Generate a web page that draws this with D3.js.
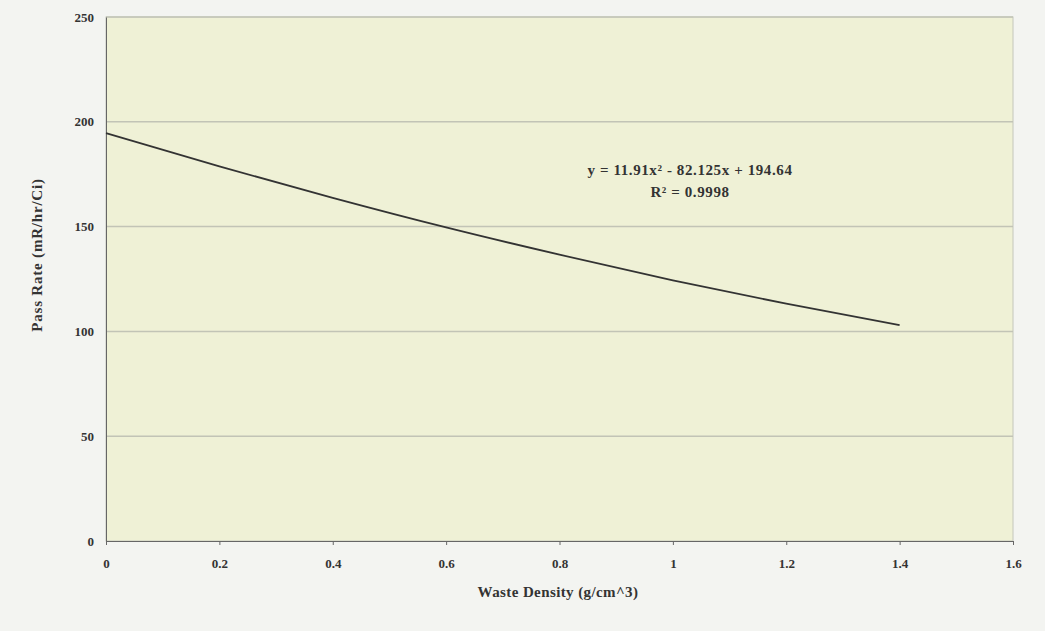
<!DOCTYPE html>
<html>
<head>
<meta charset="utf-8">
<script src="https://cdn.jsdelivr.net/npm/d3@7"></script>
<style>
  body { margin: 0; background: #f3f4f1; }
  svg { display: block; }
  .tick text { font-family: "Liberation Serif", "DejaVu Serif", serif; font-weight: bold; font-size: 13px; fill: #333; }
</style>
</head>
<body>
<svg id="chart" width="1045" height="631"></svg>
<script>
// values
const density = [0, 0.2, 0.4, 0.6, 0.8, 1.0, 1.2, 1.4];
const passRate = [194.6, 178.7, 163.7, 149.6, 136.6, 124.4, 113.2, 103.0];
const xTicks = [0, 0.2, 0.4, 0.6, 0.8, 1, 1.2, 1.4, 1.6];
const yTicks = [0, 50, 100, 150, 200, 250];
const equationLines = ["y = 11.91x\u00b2 - 82.125x + 194.64", "R\u00b2 = 0.9998"];

const MARGIN = {top: 17, right: 32, bottom: 90, left: 106};
const WIDTH = 1045, HEIGHT = 631;

const svg = d3.select('#chart');

const xScale = d3.scaleLinear()
    .domain([0, 1.6])
    .range([MARGIN.left, WIDTH - MARGIN.right]);

const yScale = d3.scaleLinear()
    .domain([0, 250])
    .range([HEIGHT - MARGIN.bottom, MARGIN.top]);

// plot area
svg.append('rect')
    .attr('x', xScale(0))
    .attr('y', yScale(250))
    .attr('width', xScale(1.6) - xScale(0))
    .attr('height', yScale(0) - yScale(250))
    .attr('fill', '#eff1d6')
    .attr('stroke', '#c4c6bc')
    .attr('stroke-width', 1);

// gridlines
svg.append('g')
    .selectAll('line')
    .data(yTicks.filter(d => d > 0))
    .join('line')
    .attr('x1', xScale(0))
    .attr('x2', xScale(1.6))
    .attr('y1', d => yScale(d))
    .attr('y2', d => yScale(d))
    .attr('stroke', '#c2c4b6')
    .attr('stroke-width', 1.5);

// axes
const xAxis = d3.axisBottom(xScale)
    .tickValues(xTicks)
    .tickFormat(d => d3.format('')(+d.toFixed(1)))
    .tickSize(4)
    .tickPadding(14);
svg.append('g')
    .attr('transform', `translate(0, ${yScale(0)})`)
    .call(xAxis)
    .call(g => g.selectAll('.domain, .tick line').attr('stroke', '#666'));

const yAxis = d3.axisLeft(yScale)
    .tickValues(yTicks)
    .tickSize(0)
    .tickPadding(12);
svg.append('g')
    .attr('transform', `translate(${xScale(0)}, 0)`)
    .call(yAxis)
    .call(g => g.select('.domain').attr('stroke', '#666'));

// trend line
const line = d3.line()
    .x((d, i) => xScale(density[i]))
    .y(d => yScale(d))
    .curve(d3.curveMonotoneX);

svg.append('path')
    .datum(passRate)
    .attr('d', line)
    .attr('fill', 'none')
    .attr('stroke', '#333')
    .attr('stroke-width', 1.8);

// equation
svg.append('g')
    .selectAll('text')
    .data(equationLines)
    .join('text')
    .attr('x', 690)
    .attr('y', (d, i) => 175 + i * 22)
    .attr('text-anchor', 'middle')
    .attr('font-family', '"Liberation Serif", serif')
    .attr('font-weight', 'bold')
    .attr('font-size', 15)
    .attr('letter-spacing', 0.6)
    .attr('fill', '#333')
    .text(d => d);

// axis titles
svg.append('text')
    .attr('x', 558)
    .attr('y', 597)
    .attr('text-anchor', 'middle')
    .attr('font-family', '"Liberation Serif", serif')
    .attr('font-weight', 'bold')
    .attr('font-size', 15)
    .attr('letter-spacing', 0.4)
    .attr('fill', '#333')
    .text('Waste Density (g/cm^3)');

svg.append('text')
    .attr('transform', `translate(42, 255) rotate(-90)`)
    .attr('text-anchor', 'middle')
    .attr('font-family', '"Liberation Serif", serif')
    .attr('font-weight', 'bold')
    .attr('font-size', 15)
    .attr('letter-spacing', 0.8)
    .attr('fill', '#333')
    .text('Pass Rate (mR/hr/Ci)');
</script>
</body>
</html>
